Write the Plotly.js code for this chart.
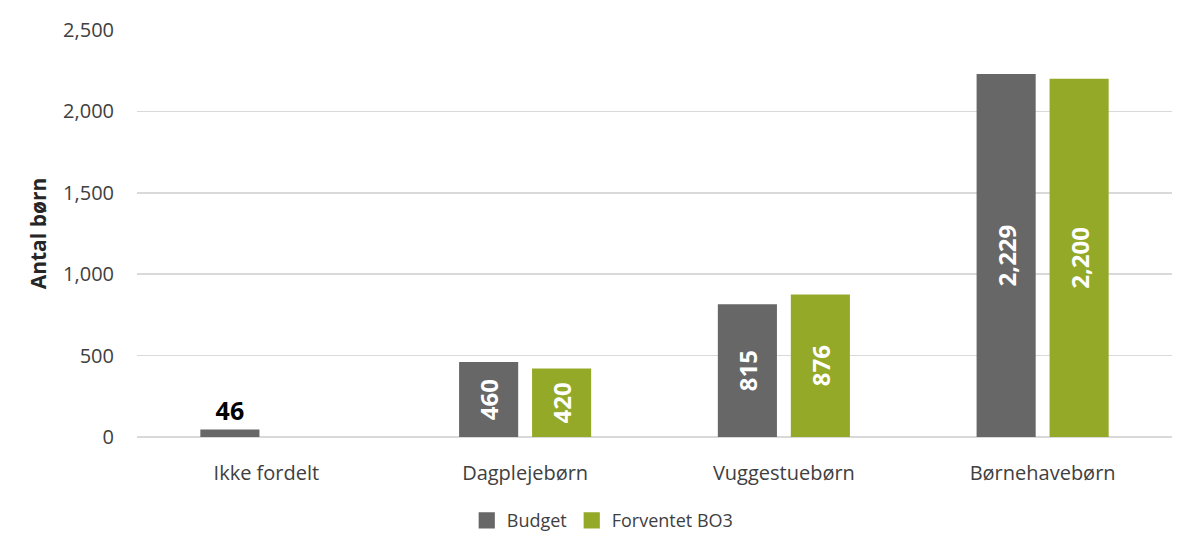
<!DOCTYPE html>
<html>
<head>
<meta charset="utf-8">
<script src="https://cdn.plot.ly/plotly-3.0.1.min.js"></script>
<style>
html,body{margin:0;padding:0;background:#fff;}
#chart{width:1183px;height:545px;}
#frame{position:absolute;left:7px;top:0;width:2px;height:545px;background:#d9d9d9;}
</style>
</head>
<body>
<div id="frame"></div>
<div id="chart"></div>
<script>
const categories = ["Ikke fordelt", "Dagplejebørn", "Vuggestuebørn", "Børnehavebørn"];
const budget = [46, 460, 815, 2229];
const forventet = [null, 420, 876, 2200];
const yTicks = [0, 500, 1000, 1500, 2000, 2500];
const yTickText = ["0", "500", "1,000", "1,500", "2,000", "2,500"];

const FONT = "Open Sans, sans-serif";
const GRAY = "#676767";
const GREEN = "#95a928";
const fmt = v => (v == null ? "" : v.toLocaleString("en-US"));

const budgetInside = budget.map((v, i) => (i === 0 ? null : v));
const budgetOutside = budget.map((v, i) => (i === 0 ? v : null));

const traces = [
  {
    type: "bar", name: "Budget", x: categories, y: budgetInside,
    marker: {color: GRAY}, offsetgroup: "b",
    text: budgetInside.map(fmt), textposition: "inside", insidetextanchor: "middle",
    textangle: -90, textfont: {family: FONT, size: 24, color: "#ffffff", weight: 700},
    cliponaxis: false
  },
  {
    type: "bar", name: "Budget", x: categories, y: budgetOutside, showlegend: false,
    marker: {color: GRAY}, offsetgroup: "b",
    text: budgetOutside.map(fmt), textposition: "outside",
    textangle: 0, textfont: {family: FONT, size: 25, color: "#000000", weight: 700},
    cliponaxis: false
  },
  {
    type: "bar", name: "Forventet BO3", x: categories, y: forventet,
    marker: {color: GREEN}, offsetgroup: "f",
    text: forventet.map(fmt), textposition: "inside", insidetextanchor: "middle",
    textangle: -90, textfont: {family: FONT, size: 24, color: "#ffffff", weight: 700},
    cliponaxis: false
  }
];

const layout = {
  width: 1183, height: 545,
  margin: {l: 137, r: 11, t: 30, b: 108, autoexpand: false},
  paper_bgcolor: "#ffffff", plot_bgcolor: "#ffffff",
  barmode: "group", bargap: 0.436, bargroupgap: 0.19,
  font: {family: FONT, color: "#404040", size: 20},
  xaxis: {
    type: "category", categoryorder: "array", categoryarray: categories,
    range: [-0.5, 3.5], showgrid: false, zeroline: false, showline: false,
    ticks: "", tickangle: 0, tickfont: {family: FONT, size: 20, color: "#404040"},
    ticklabelstandoff: 22, fixedrange: true, automargin: false
  },
  yaxis: {
    range: [0, 2500], tickvals: yTicks, ticktext: yTickText,
    showgrid: true, gridcolor: "#d9d9d9", gridwidth: 1.5,
    zeroline: true, zerolinecolor: "#d9d9d9", zerolinewidth: 2,
    showline: false, ticks: "", ticklabelstandoff: 22,
    tickfont: {family: FONT, size: 20, color: "#404040"},
    title: {text: "Antal børn", font: {family: FONT, size: 21, color: "#262626", weight: 700}, standoff: 10},
    fixedrange: true, automargin: false
  },
  showlegend: true,
  legend: {
    orientation: "h", x: 0.45, xanchor: "center", xref: "paper",
    y: -0.16, yanchor: "top", font: {family: FONT, size: 18, color: "#404040"},
    itemwidth: 30, traceorder: "normal"
  }
};

Plotly.newPlot("chart", traces, layout, {displayModeBar: false, staticPlot: true}).then(() => {
  document.querySelectorAll(".legend .legendpoints path").forEach(p => {
    const t = p.getAttribute("transform") || "";
    p.setAttribute("transform", t + " scale(1.35)");
  });
});
</script>
</body>
</html>
